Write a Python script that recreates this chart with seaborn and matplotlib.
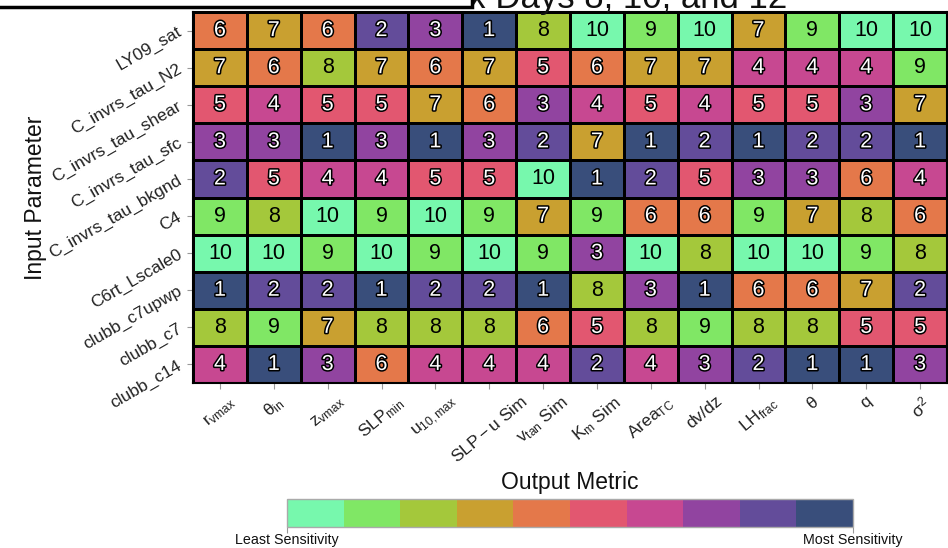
import numpy as np
import pandas as pd
import matplotlib
matplotlib.use("Agg")
import matplotlib.pyplot as plt
import matplotlib.patheffects as pe
import matplotlib.patches as mpatches
from matplotlib.colors import ListedColormap
import seaborn as sns

# Input parameters (rows) and output metrics (columns)
params = ["LY09_sat", "C_invrs_tau_N2", "C_invrs_tau_shear", "C_invrs_tau_sfc",
          "C_invrs_tau_bkgnd", "C4", "C6rt_Lscale0", "clubb_c7upwp",
          "clubb_c7", "clubb_c14"]
metrics = [r"$r_{vmax}$", r"$\theta_{in}$", r"$z_{vmax}$", r"$SLP_{min}$",
           r"$u_{10,max}$", r"$SLP-u$ Sim", r"$v_{tan}$ Sim", r"$K_m$ Sim",
           r"$Area_{TC}$", "dv/dz", r"$LH_{frac}$", r"$\theta$", "q", r"$\sigma^2$"]

# Sensitivity rank of each parameter for each metric (1 = most sensitive)
rank_ly09_sat      = [6, 7, 6, 2, 3, 1, 8, 10, 9, 10, 7, 9, 10, 10]
rank_tau_n2        = [7, 6, 8, 7, 6, 7, 5, 6, 7, 7, 4, 4, 4, 9]
rank_tau_shear     = [5, 4, 5, 5, 7, 6, 3, 4, 5, 4, 5, 5, 3, 7]
rank_tau_sfc       = [3, 3, 1, 3, 1, 3, 2, 7, 1, 2, 1, 2, 2, 1]
rank_tau_bkgnd     = [2, 5, 4, 4, 5, 5, 10, 1, 2, 5, 3, 3, 6, 4]
rank_c4            = [9, 8, 10, 9, 10, 9, 7, 9, 6, 6, 9, 7, 8, 6]
rank_c6rt_lscale0  = [10, 10, 9, 10, 9, 10, 9, 3, 10, 8, 10, 10, 9, 8]
rank_clubb_c7upwp  = [1, 2, 2, 1, 2, 2, 1, 8, 3, 1, 6, 6, 7, 2]
rank_clubb_c7      = [8, 9, 7, 8, 8, 8, 6, 5, 8, 9, 8, 8, 5, 5]
rank_clubb_c14     = [4, 1, 3, 6, 4, 4, 4, 2, 4, 3, 2, 1, 1, 3]

cbar_labels = ["Least Sensitivity", "Most Sensitivity"]

# Colours for ranks 1..10
rank_colors = ["#394E7B", "#634C9A", "#9144A0", "#C74891", "#E25770",
               "#E4784A", "#C9A030", "#A4C83B", "#80E765", "#77F8AD"]

plt.rcParams["font.family"] = ["Liberation Sans", "DejaVu Sans"]
plt.rcParams["mathtext.fontset"] = "custom"
plt.rcParams["mathtext.rm"] = "Liberation Sans"
plt.rcParams["mathtext.it"] = "Liberation Sans"
plt.rcParams["mathtext.bf"] = "Liberation Sans:bold"

df = pd.DataFrame(
    [rank_ly09_sat, rank_tau_n2, rank_tau_shear, rank_tau_sfc, rank_tau_bkgnd,
     rank_c4, rank_c6rt_lscale0, rank_clubb_c7upwp, rank_clubb_c7, rank_clubb_c14],
    index=params, columns=metrics)

W, H = 948, 548
fig = plt.figure(figsize=(W / 100, H / 100), dpi=100)
ax = fig.add_axes([193 / W, 1 - 383 / H, (947 - 193) / W, (383 - 12) / H])
cax = fig.add_axes([287 / W, 1 - 527 / H, (853 - 287) / W, 28 / H])

cmap = ListedColormap(rank_colors)
sns.heatmap(df, ax=ax, cmap=cmap, vmin=0.5, vmax=10.5,
            annot=True, fmt="d", annot_kws={"fontsize": 15.5},
            linewidths=2, linecolor="black",
            cbar_ax=cax,
            cbar_kws={"orientation": "horizontal", "drawedges": True,
                      "ticks": [10.5, 0.5]})

# Cell numbers: white with a dark outline for the high-sensitivity ranks
for t in ax.texts:
    v = int(t.get_text())
    if v <= 7:
        t.set_color("white")
        t.set_path_effects([pe.withStroke(linewidth=2.2, foreground="black")])
    else:
        t.set_color("black")

for sp in ax.spines.values():
    sp.set_visible(True)
    sp.set_color("black")
    sp.set_linewidth(1.5)

ax.set_xticklabels(metrics, rotation=40, ha="center", fontsize=12.5, color="#222222")
ax.set_yticklabels(params, rotation=30, ha="right", va="center",
                   rotation_mode="anchor", fontsize=12.5, color="#222222")
ax.tick_params(axis="both", length=4, width=0.8, color="#999999", pad=3.5)
ax.tick_params(axis="y", pad=5)

ax.set_xlabel("Output Metric", fontsize=16.5, color="#111111")
ax.xaxis.label.set_va("center")
ax.xaxis.set_label_coords(0.5, -0.267)
ax.set_ylabel("Input Parameter", fontsize=16.5, color="#111111")
ax.yaxis.label.set_va("center")
ax.yaxis.set_label_coords(-0.2095, 0.5)

# Horizontal colour bar running from least to most sensitive
cbar = ax.collections[0].colorbar
cbar.ax.invert_xaxis()
cbar.set_ticks([10.5, 0.5])
cbar.set_ticklabels(cbar_labels)
cbar.ax.tick_params(labelsize=10.3, length=4, width=0.8, color="#999999",
                    labelcolor="#111111", pad=0.5)
cbar.outline.set_edgecolor("#aaaaaa")
cbar.outline.set_linewidth(1)
cbar.dividers.set_color("#555555")
cbar.dividers.set_linewidth(0.6)
cbar.dividers.set_alpha(0.6)

# Title with the overlapping label box in the top-left corner
fig.text(787 / W, 1 - 8 / H, "Total Sobol Index Days 8, 10, and 12",
         ha="right", va="baseline", fontsize=25, color="#111111", zorder=3)
box = mpatches.Rectangle((-10 / W, 1 - 6.5 / H), (472 + 10) / W, 0.1,
                         transform=fig.transFigure, facecolor="white",
                         edgecolor="black", linewidth=2.5, zorder=10,
                         clip_on=False)
fig.add_artist(box)

fig.savefig("out.png", dpi=100)
